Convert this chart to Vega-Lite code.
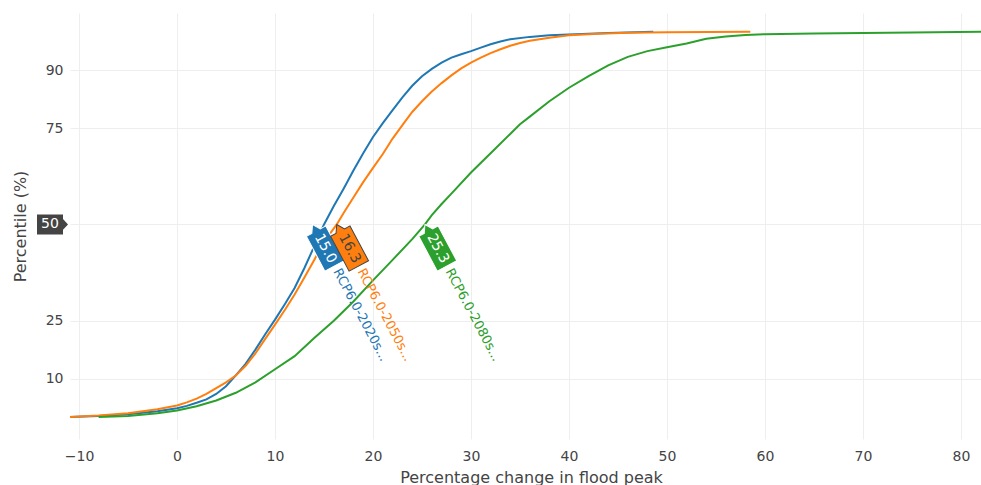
{
  "$schema": "https://vega.github.io/schema/vega-lite/v6.json",
  "width": 911,
  "height": 426,
  "autosize": {"type": "none"},
  "padding": {"left": 70, "top": 13, "right": 0, "bottom": 46},
  "background": "white",
  "config": {"view": {"stroke": null}, "font": "DejaVu Sans"},
  "resolve": {"scale": {"color": "independent", "fill": "independent", "stroke": "independent"}},
  "datasets": {
    "curves": [
      {"s":"2020s","x":-10.92,"p":0},{"s":"2020s","x":-8,"p":0.3},{"s":"2020s","x":-5,"p":0.7},{"s":"2020s","x":-2,"p":1.5},{"s":"2020s","x":0,"p":2.3},{"s":"2020s","x":1,"p":2.9},{"s":"2020s","x":2,"p":3.7},{"s":"2020s","x":3,"p":4.6},{"s":"2020s","x":4,"p":6.0},{"s":"2020s","x":5,"p":8.0},{"s":"2020s","x":6,"p":10.8},{"s":"2020s","x":7,"p":13.8},{"s":"2020s","x":8,"p":17.5},{"s":"2020s","x":9,"p":21.5},{"s":"2020s","x":10,"p":25.3},{"s":"2020s","x":11,"p":29.3},{"s":"2020s","x":12,"p":33.5},{"s":"2020s","x":13,"p":38.7},{"s":"2020s","x":14,"p":44.3},{"s":"2020s","x":15,"p":50},{"s":"2020s","x":16,"p":54.8},{"s":"2020s","x":17,"p":59.3},{"s":"2020s","x":18,"p":64},{"s":"2020s","x":19,"p":68.5},{"s":"2020s","x":20,"p":72.7},{"s":"2020s","x":21,"p":76.3},{"s":"2020s","x":22,"p":79.7},{"s":"2020s","x":23,"p":83},{"s":"2020s","x":24,"p":86},{"s":"2020s","x":25,"p":88.5},{"s":"2020s","x":26,"p":90.4},{"s":"2020s","x":27,"p":92},{"s":"2020s","x":28,"p":93.3},{"s":"2020s","x":29,"p":94.2},{"s":"2020s","x":30,"p":95},{"s":"2020s","x":31,"p":95.9},{"s":"2020s","x":32,"p":96.8},{"s":"2020s","x":33,"p":97.5},{"s":"2020s","x":34,"p":98.1},{"s":"2020s","x":36,"p":98.7},{"s":"2020s","x":38,"p":99.1},{"s":"2020s","x":40,"p":99.3},{"s":"2020s","x":44,"p":99.7},{"s":"2020s","x":48.6,"p":100},
      {"s":"2050s","x":-10.92,"p":0},{"s":"2050s","x":-8,"p":0.4},{"s":"2050s","x":-5,"p":1.0},{"s":"2050s","x":-2,"p":2.0},{"s":"2050s","x":0,"p":3.0},{"s":"2050s","x":1,"p":3.8},{"s":"2050s","x":2,"p":4.8},{"s":"2050s","x":3,"p":6.0},{"s":"2050s","x":4,"p":7.5},{"s":"2050s","x":5,"p":9.0},{"s":"2050s","x":6,"p":10.8},{"s":"2050s","x":7,"p":13.3},{"s":"2050s","x":8,"p":16.5},{"s":"2050s","x":9,"p":20.3},{"s":"2050s","x":10,"p":24},{"s":"2050s","x":11,"p":27.8},{"s":"2050s","x":12,"p":31.8},{"s":"2050s","x":13,"p":36.2},{"s":"2050s","x":14,"p":40.8},{"s":"2050s","x":15,"p":45.5},{"s":"2050s","x":16.3,"p":50},{"s":"2050s","x":17,"p":53},{"s":"2050s","x":18,"p":57},{"s":"2050s","x":19,"p":61},{"s":"2050s","x":20,"p":64.7},{"s":"2050s","x":21,"p":68.3},{"s":"2050s","x":22,"p":72.3},{"s":"2050s","x":23,"p":75.8},{"s":"2050s","x":24,"p":79.2},{"s":"2050s","x":25,"p":82},{"s":"2050s","x":26,"p":84.5},{"s":"2050s","x":27,"p":86.7},{"s":"2050s","x":28,"p":88.7},{"s":"2050s","x":29,"p":90.5},{"s":"2050s","x":30,"p":92},{"s":"2050s","x":31,"p":93.3},{"s":"2050s","x":32,"p":94.5},{"s":"2050s","x":33,"p":95.5},{"s":"2050s","x":34,"p":96.4},{"s":"2050s","x":35,"p":97.1},{"s":"2050s","x":36,"p":97.7},{"s":"2050s","x":38,"p":98.5},{"s":"2050s","x":40,"p":99.1},{"s":"2050s","x":43,"p":99.5},{"s":"2050s","x":46,"p":99.8},{"s":"2050s","x":50,"p":99.9},{"s":"2050s","x":58.5,"p":100},
      {"s":"2080s","x":-8,"p":0},{"s":"2080s","x":-5,"p":0.3},{"s":"2080s","x":-2,"p":1.0},{"s":"2080s","x":0,"p":1.7},{"s":"2080s","x":2,"p":2.8},{"s":"2080s","x":4,"p":4.3},{"s":"2080s","x":6,"p":6.3},{"s":"2080s","x":8,"p":9.0},{"s":"2080s","x":10,"p":12.4},{"s":"2080s","x":12,"p":15.8},{"s":"2080s","x":14,"p":20.5},{"s":"2080s","x":16,"p":25},{"s":"2080s","x":18,"p":30},{"s":"2080s","x":20,"p":35.5},{"s":"2080s","x":22,"p":40.8},{"s":"2080s","x":24,"p":46.2},{"s":"2080s","x":25.3,"p":50},{"s":"2080s","x":26,"p":52.4},{"s":"2080s","x":27,"p":55.3},{"s":"2080s","x":28,"p":58},{"s":"2080s","x":30,"p":63.5},{"s":"2080s","x":32,"p":68.5},{"s":"2080s","x":34,"p":73.5},{"s":"2080s","x":35,"p":76},{"s":"2080s","x":36,"p":78},{"s":"2080s","x":38,"p":82},{"s":"2080s","x":40,"p":85.5},{"s":"2080s","x":42,"p":88.5},{"s":"2080s","x":44,"p":91.3},{"s":"2080s","x":46,"p":93.5},{"s":"2080s","x":48,"p":95},{"s":"2080s","x":50,"p":96},{"s":"2080s","x":52,"p":97},{"s":"2080s","x":54,"p":98.2},{"s":"2080s","x":56,"p":98.8},{"s":"2080s","x":58,"p":99.2},{"s":"2080s","x":60,"p":99.4},{"s":"2080s","x":65,"p":99.6},{"s":"2080s","x":70,"p":99.7},{"s":"2080s","x":75,"p":99.85},{"s":"2080s","x":82.04,"p":100}
    ],
    "labels": [
      {"s":"2020s","value":15.0,"lx":13.83,"ly":50,"name":"RCP6.0-2020s..."},
      {"s":"2050s","value":16.3,"lx":16.3,"ly":50,"name":"RCP6.0-2050s..."},
      {"s":"2080s","value":25.3,"lx":25.3,"ly":50,"name":"RCP6.0-2080s..."}
    ],
    "spike": [{"x":-10.92,"p":50,"text":"50"}]
  },
  "layer": [
    {
      "data": {"name": "curves"},
      "mark": {"type": "line", "strokeWidth": 2},
      "encoding": {
        "x": {"field": "x", "type": "quantitative",
          "scale": {"domain": [-10.92, 82.04], "nice": false, "zero": false},
          "axis": {"values": [-10,0,10,20,30,40,50,60,70,80], "title": "Percentage change in flood peak",
            "grid": true, "gridColor": "#eeeeee", "domain": false, "ticks": false, "labelPadding": 10,
            "labelFontSize": 14, "labelColor": "#444444", "labelFont": "DejaVu Sans", "labelFlush": false,
            "titleFontSize": 16, "titleColor": "#444444", "titleFont": "DejaVu Sans", "titleFontWeight": "normal",
            "titleX": 461, "titleY": 43, "titleBaseline": "alphabetic"}},
        "y": {"field": "p", "type": "quantitative",
          "scale": {"domain": [-5.7, 104.9], "nice": false, "zero": false},
          "axis": {"values": [10,25,50,75,90], "title": "Percentile (%)",
            "labelExpr": "datum.value == 50 ? '' : datum.label",
            "grid": true, "gridColor": "#eeeeee", "domain": false, "ticks": false, "labelPadding": 7,
            "labelFontSize": 14, "labelColor": "#444444", "labelFont": "DejaVu Sans",
            "titleFontSize": 16, "titleColor": "#444444", "titleFont": "DejaVu Sans", "titleFontWeight": "normal",
            "titlePadding": 17}},
        "color": {"field": "s", "type": "nominal",
          "scale": {"domain": ["2020s","2050s","2080s"], "range": ["#1f77b4","#ff7f0e","#2ca02c"]},
          "legend": null},
        "order": {"field": "x", "type": "quantitative"}
      }
    },
    {
      "mark": {"type": "rule", "color": "#444444", "strokeWidth": 1},
      "encoding": {"x": {"datum": 0, "type": "quantitative"}}
    },
    {
      "mark": {"type": "rule", "color": "#444444", "strokeWidth": 1},
      "encoding": {"y": {"datum": 0, "type": "quantitative"}}
    },
    {
      "data": {"name": "labels"},
      "mark": {"type": "point", "shape": "M0,0L0.375,-0.24L0.375,-0.55L2.35,-0.55L2.35,0.55L0.375,0.55L0.375,0.24Z",
        "filled": true, "size": 1600, "angle": 62, "opacity": 1, "strokeWidth": 1},
      "encoding": {
        "x": {"field": "lx", "type": "quantitative"},
        "y": {"field": "ly", "type": "quantitative"},
        "fill": {"field": "s", "type": "nominal",
          "scale": {"domain": ["2020s","2050s","2080s"], "range": ["#1f77b4","#ff7f0e","#2ca02c"]}, "legend": null},
        "stroke": {"field": "s", "type": "nominal",
          "scale": {"domain": ["2020s","2050s","2080s"], "range": ["#ffffff","#444444","#ffffff"]}, "legend": null}
      }
    },
    {
      "data": {"name": "labels"},
      "mark": {"type": "text", "angle": 62, "dx": 27.3, "align": "center", "baseline": "middle", "fontSize": 14, "font": "DejaVu Sans"},
      "encoding": {
        "x": {"field": "lx", "type": "quantitative"},
        "y": {"field": "ly", "type": "quantitative"},
        "text": {"field": "value", "type": "quantitative", "format": ".1f"},
        "color": {"field": "s", "type": "nominal",
          "scale": {"domain": ["2020s","2050s","2080s"], "range": ["#ffffff","#444444","#ffffff"]}, "legend": null}
      }
    },
    {
      "data": {"name": "labels"},
      "mark": {"type": "text", "angle": 62, "dx": 51, "align": "left", "baseline": "middle", "fontSize": 13, "font": "DejaVu Sans"},
      "encoding": {
        "x": {"field": "lx", "type": "quantitative"},
        "y": {"field": "ly", "type": "quantitative"},
        "text": {"field": "name", "type": "nominal"},
        "color": {"field": "s", "type": "nominal",
          "scale": {"domain": ["2020s","2050s","2080s"], "range": ["#1f77b4","#ff7f0e","#2ca02c"]}, "legend": null}
      }
    },
    {
      "data": {"name": "spike"},
      "mark": {"type": "point", "shape": "M-0.1,0L-0.35,-0.27L-0.35,-0.5L-1.65,-0.5L-1.65,0.5L-0.35,0.5L-0.35,0.27Z",
        "filled": true, "size": 1600, "opacity": 1, "color": "#444444"},
      "encoding": {
        "x": {"field": "x", "type": "quantitative"},
        "y": {"field": "p", "type": "quantitative"}
      }
    },
    {
      "data": {"name": "spike"},
      "mark": {"type": "text", "dx": -20, "align": "center", "baseline": "middle", "fontSize": 14, "font": "DejaVu Sans", "color": "#ffffff"},
      "encoding": {
        "x": {"field": "x", "type": "quantitative"},
        "y": {"field": "p", "type": "quantitative"},
        "text": {"field": "text", "type": "nominal"}
      }
    }
  ]
}
